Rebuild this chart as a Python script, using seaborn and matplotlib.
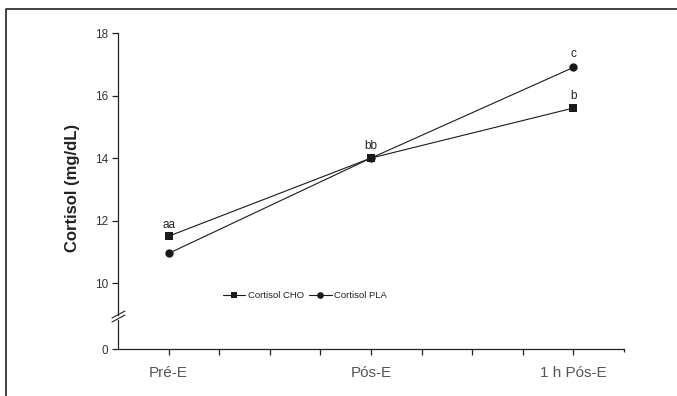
import pandas as pd
import matplotlib
matplotlib.use("Agg")
import matplotlib.pyplot as plt
import seaborn as sns
from matplotlib.lines import Line2D

sns.set_style("white")
plt.rcParams["font.family"] = ["Liberation Sans", "DejaVu Sans"]

# Data
momentos = ["Pré-E", "Pós-E", "1 h Pós-E"]
cortisol_cho = [11.5, 14.0, 15.6]
cortisol_pla = [10.95, 14.0, 16.9]
letras_cho = ["aa", "bb", "b"]
letras_pla = ["", "", "c"]
y_ticks = [10, 12, 14, 16, 18]

# place the three moments on a 0-10 axis like the original
posicao = {"Pré-E": 1, "Pós-E": 5, "1 h Pós-E": 9}

df = pd.DataFrame({
    "momento": momentos * 2,
    "cortisol": cortisol_cho + cortisol_pla,
    "serie": ["Cortisol CHO"] * 3 + ["Cortisol PLA"] * 3,
})
df["x"] = df["momento"].map(posicao)

W, H = 677, 396
fig = plt.figure(figsize=(W / 100, H / 100), dpi=100)

def fx(px):
    return px / W

def fy(py):
    return 1 - py / H

x0, x1 = 118, 624
ax = fig.add_axes([fx(x0), fy(315), fx(x1 - x0), fy(33) - fy(315)])
ax_b = fig.add_axes([fx(x0), fy(349), fx(x1 - x0), fy(320) - fy(349)], sharex=ax)

sns.lineplot(
    data=df, x="x", y="cortisol", hue="serie", style="serie",
    markers={"Cortisol CHO": "s", "Cortisol PLA": "o"}, dashes=False,
    palette=["#1a1a1a", "#1a1a1a"], linewidth=0.8, markersize=6,
    markeredgewidth=0, ax=ax,
)

# letters over points
for i, m in enumerate(momentos):
    if letras_cho[i]:
        ax.annotate(letras_cho[i], (posicao[m], cortisol_cho[i]), xytext=(0, 4),
                    textcoords="offset points", ha="center", va="bottom",
                    fontsize=8.5, color="#222222")
    if letras_pla[i]:
        ax.annotate(letras_pla[i], (posicao[m], cortisol_pla[i]), xytext=(0, 5),
                    textcoords="offset points", ha="center", va="bottom",
                    fontsize=8.5, color="#222222")

ax.set_xlim(0, 10)
ax.set_ylim(8.98, 18)
ax.set_yticks(y_ticks)
ax.set_yticklabels([str(t) for t in y_ticks])
ax.set_xlabel("")
ax.set_ylabel("")
for s in ["top", "right", "bottom"]:
    ax.spines[s].set_visible(False)
ax.spines["left"].set_color("#222222")
ax.spines["left"].set_linewidth(0.9)
ax.tick_params(axis="y", direction="out", length=4, width=0.9, color="#222222",
               labelsize=8.5, labelcolor="#333333", pad=3, left=True)
ax.tick_params(axis="x", bottom=False, labelbottom=False)

leg = ax.legend(loc="center", bbox_to_anchor=((305 - x0) / (x1 - x0), (315 - 296) / 282),
                ncol=2, frameon=False, fontsize=6.8, handlelength=2.4,
                handletextpad=0.3, columnspacing=0.5, markerscale=0.8)
for t in leg.get_texts():
    t.set_color("#222222")

# bottom part of broken axis
ax_b.set_ylim(0, 1)
ax_b.set_yticks([0])
ax_b.set_yticklabels(["0"])
ax_b.set_xticks(range(1, 10))
ax_b.set_xticklabels(["Pré-E", "", "", "", "Pós-E", "", "", "", "1 h Pós-E"])
ax_b.set_xticks([10], minor=True)
for s in ["top", "right"]:
    ax_b.spines[s].set_visible(False)
for s in ["left", "bottom"]:
    ax_b.spines[s].set_color("#222222")
    ax_b.spines[s].set_linewidth(0.9)
ax_b.tick_params(axis="y", direction="out", length=4, width=0.9, color="#222222",
                 labelsize=8.5, labelcolor="#333333", pad=3, left=True)
ax_b.tick_params(axis="x", which="major", direction="out", length=4, width=0.9,
                 color="#222222", labelsize=11, labelcolor="#555555", pad=8, bottom=True)
ax_b.tick_params(axis="x", which="minor", direction="out", length=2, width=0.9,
                 color="#222222", bottom=True)
ax_b.set_xlabel("")

# break marks on the y axis
for dy in (0, 4):
    fig.add_artist(Line2D([fx(112), fx(125)], [fy(322 - dy), fy(315 - dy)],
                          transform=fig.transFigure, color="#222222", lw=0.8))

fig.text(fx(73), fy(188), "Cortisol (mg/dL)", rotation=90, ha="center", va="center",
         fontsize=12, fontweight="bold", color="#222222")

# frame: only the left and top edges show in the original
fig.add_artist(Line2D([fx(6), fx(6), 1.0], [0.0, fy(9), fy(9)],
                      transform=fig.transFigure, color="#333333", lw=1.3))

fig.savefig("out.png", dpi=100)
